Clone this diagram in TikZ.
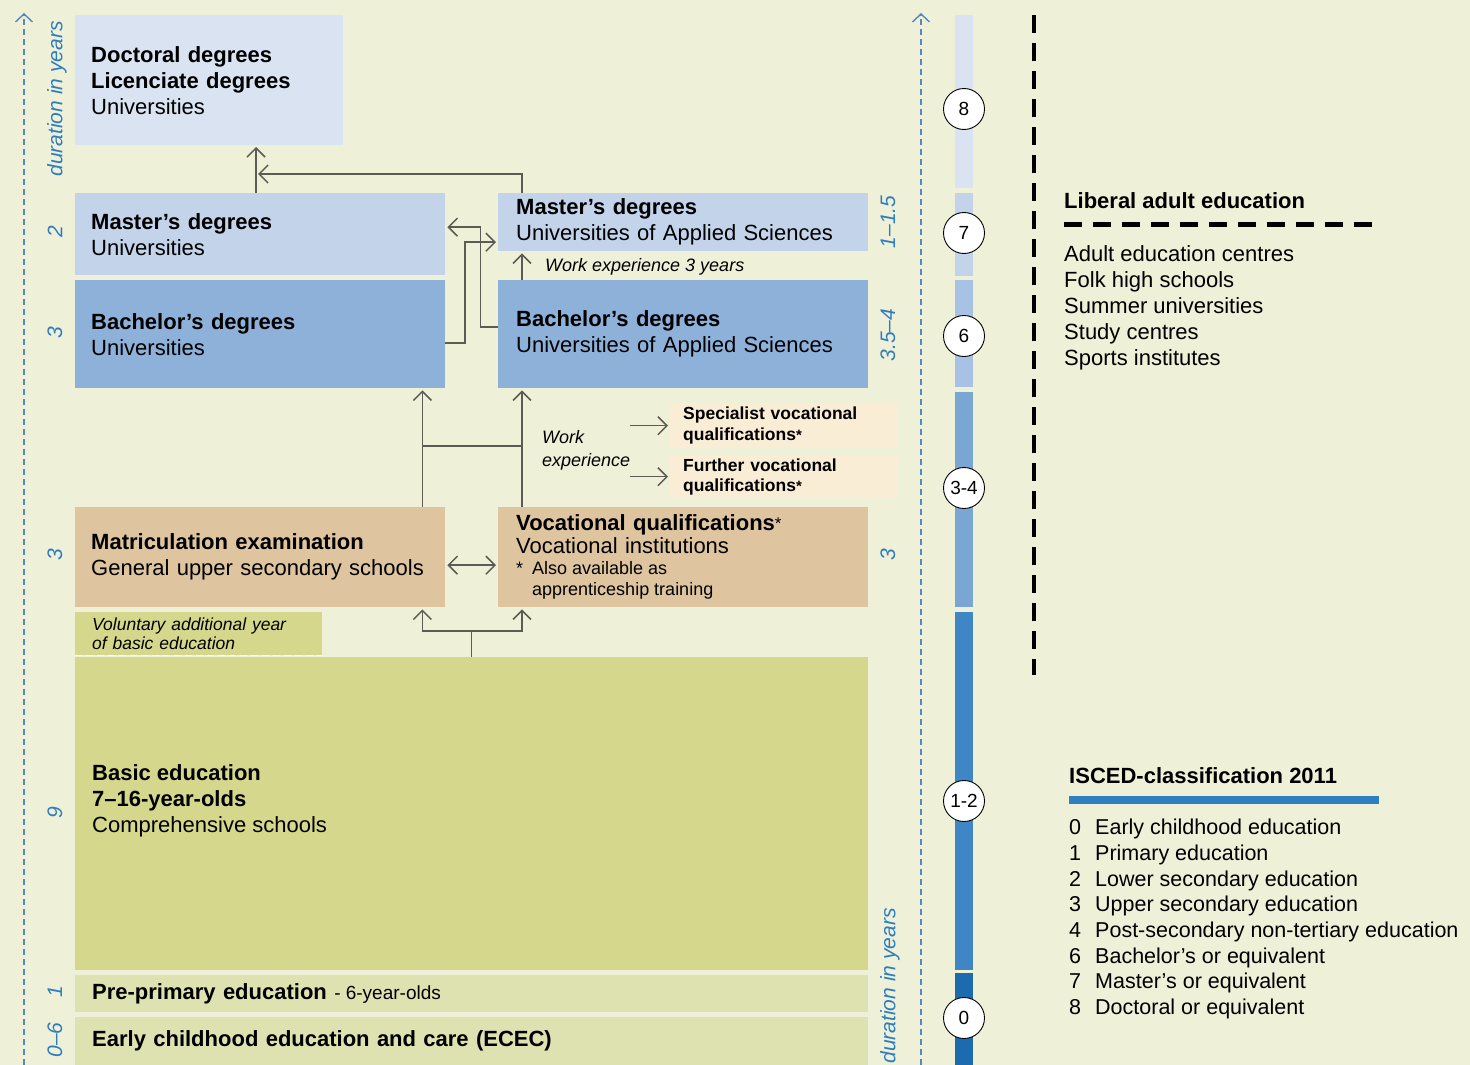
\documentclass[tikz,border=0pt]{standalone}
\usepackage{fontspec}
\setmainfont{Liberation Sans}
\usetikzlibrary{arrows.meta,calc}
\setlength{\parindent}{0pt}
\definecolor{bg}{RGB}{238,240,216}
\definecolor{cdoc}{RGB}{218,227,241}
\definecolor{cmas}{RGB}{194,211,234}
\definecolor{cbac}{RGB}{142,177,218}
\definecolor{ctan}{RGB}{222,197,160}
\definecolor{ccream}{RGB}{250,237,214}
\definecolor{colive}{RGB}{213,216,140}
\definecolor{clight}{RGB}{222,226,176}
\definecolor{conncol}{RGB}{92,92,84}
\definecolor{durcol}{RGB}{46,125,190}
\definecolor{axcol}{RGB}{85,135,192}
\definecolor{iA}{RGB}{218,227,241}
\definecolor{iB}{RGB}{194,211,234}
\definecolor{iC}{RGB}{168,194,229}
\definecolor{iD}{RGB}{122,166,212}
\definecolor{iE}{RGB}{63,135,196}
\definecolor{iF}{RGB}{28,107,175}
\definecolor{iscbar}{RGB}{47,126,192}
\newcommand{\fnast}[2][1pt]{\raisebox{#1}{\fontsize{#2}{#2}\selectfont*}}
\begin{document}
\begin{tikzpicture}[x=1pt,y=-1pt,
  box/.style={anchor=north west, inner xsep=16pt, inner ysep=0pt, align=left, font=\fontsize{22}{26}\selectfont},
  conn/.style={draw=conncol, line width=1.5pt},
  arr/.style={-{Straight Barb[length=9pt,width=18pt]}, shorten >=2pt},
  arrs/.style={{Straight Barb[length=9pt,width=18pt]}-{Straight Barb[length=9pt,width=18pt]}, shorten >=2pt, shorten <=2pt},
  dur/.style={rotate=90, text=durcol, font=\fontsize{21}{21}\selectfont\itshape, inner sep=0pt},
  axis/.style={draw=axcol, line width=1.4pt, dash pattern=on 6pt off 4pt, -{Straight Barb[length=8pt,width=17pt]}},
  circ/.style={circle, draw=black, fill=white, minimum size=41pt, inner sep=0pt, line width=0.9pt, font=\fontsize{19}{19}\selectfont},
  txt/.style={inner sep=0pt, align=left}
]
\useasboundingbox (0,0) rectangle (1470,1065);
\fill[bg] (0,0) rectangle (1470,1065);

% duration axes
\coordinate (axLb) at (24,1065);
\coordinate (axLt) at (24,13);
\coordinate (axRb) at (921,1065);
\coordinate (axRt) at (921,13);
\draw[axis] (axLb) -- (axLt);
\draw[axis] (axRb) -- (axRt);

% left duration labels
\node[dur] (dlL) at (57,99) {duration in years};
\node[dur] (dl2) at (55,232) {2};
\node[dur] (dl3a) at (55,333) {3};
\node[dur] (dl3b) at (55,555) {3};
\node[dur] (dl9) at (55,813) {9};
\node[dur] (dl1) at (55,992) {1};
\node[dur] (dl06) at (55,1040) {0–6};
% right duration labels
\node[dur] (drA) at (888,222) {1–1.5};
\node[dur] (drB) at (888,335) {3.5–4};
\node[dur] (drC) at (888,555) {3};
\node[dur] (drL) at (890,986) {duration in years};

% boxes
\node[box, fill=cdoc, minimum width=268, minimum height=130, text width=236] (doc) at (75,15)
  {\textbf{Doctoral degrees}\\\textbf{Licenciate degrees}\\Universities};
\node[box, fill=cmas, minimum width=370, minimum height=82, text width=338] (mastU) at (75,193)
  {\textbf{Master’s degrees}\\Universities};
\node[box, fill=cbac, minimum width=370, minimum height=108, text width=338] (bachU) at (75,280)
  {\textbf{Bachelor’s degrees}\\Universities};
\node[box, inner xsep=18pt, fill=cmas, minimum width=370, minimum height=58, text width=334] (mastA) at (498,193)
  {\textbf{Master’s degrees}\\Universities of Applied Sciences};
\node[box, inner xsep=18pt, fill=cbac, minimum width=370, minimum height=108, text width=334] (bachA) at (498,280)
  {\textbf{Bachelor’s degrees}\\Universities of Applied Sciences};
\node[txt, anchor=base west, font=\fontsize{18}{18}\selectfont\itshape] (work3) at (545,271) {Work experience 3 years};

\node[box, inner xsep=13pt, fill=ccream, minimum width=228, minimum height=45, text width=202, font=\fontsize{17.5}{21}\selectfont\bfseries] (spec) at (670,403)
  {Specialist vocational\\qualifications\fnast[0pt]{15}};
\node[box, inner xsep=13pt, fill=ccream, minimum width=228, minimum height=43, text width=202, font=\fontsize{17.5}{20}\selectfont\bfseries] (further) at (670,455)
  {Further vocational\\qualifications\fnast[0pt]{15}};
\node[txt, anchor=north west, font=\fontsize{18}{23}\selectfont\itshape] (workexp) at (542,430) {Work\\experience};

\node[box, fill=ctan, minimum width=370, minimum height=100, text width=338] (matric) at (75,507)
  {\textbf{Matriculation examination}\\General upper secondary schools};
\node[box, inner xsep=18pt, fill=ctan, minimum width=370, minimum height=100, text width=334, font=\fontsize{22}{23}\selectfont] (voc) at (498,507)
  {\raggedright\textbf{Vocational qualifications}\fnast[1pt]{17}\par
   Vocational institutions\par
   \fontsize{18}{21}\selectfont\spaceskip=0pt\xspaceskip=0pt
   \makebox[16pt][l]{*}Also available as\par
   \hspace*{16pt}apprenticeship training\par};

\node[box, inner xsep=17pt, fill=colive, minimum width=247, minimum height=43, text width=213, font=\fontsize{17.5}{19}\selectfont\itshape] (volun) at (75,612)
  {Voluntary additional year\\of basic education};
\draw[white, line width=1.5pt, dash pattern=on 7pt off 4pt] (volun.south west) -- (volun.south east);

\node[box, fill=colive, minimum width=793, minimum height=313] (basic) at (75,657) {};
\node[txt, anchor=north west, font=\fontsize{22}{26}\selectfont] (basictxt) at (92,764)
  {\textbf{Basic education}\\\textbf{7–16-year-olds}\\Comprehensive schools};
\node[box, inner xsep=17pt, fill=clight, minimum width=793, minimum height=37, text width=759] (pre) at (75,975)
  {\textbf{Pre-primary education} {\fontsize{19}{19}\selectfont\spaceskip=0pt - 6-year-olds}};
\node[box, inner xsep=17pt, fill=clight, minimum width=793, minimum height=48, text width=759] (ecec) at (75,1017)
  {\textbf{Early childhood education and care (ECEC)}};

% connectors
\draw[conn] (basic.north) -- ++(0,-26) coordinate (jb);
\draw[conn,arr] (jb) -| ([xshift=-23pt]matric.south east);
\draw[conn,arr] (jb) -| ([xshift=24pt]voc.south west);
\draw[conn,arr] ([xshift=-23pt]matric.north east) -- ([xshift=-23pt]bachU.south east);
\draw[conn,arr] ([xshift=24pt]voc.north west) -- ([xshift=24pt]bachA.south west);
\draw[conn] ([xshift=-23pt,yshift=61pt]matric.north east) -- ([xshift=24pt,yshift=61pt]voc.north west);
\draw[conn,arrs] ([yshift=-8pt]matric.east) -- ([yshift=-8pt]voc.west);
\draw[conn,arr] (workexp.east |- spec.west) -- (spec.west);
\draw[conn,arr] (workexp.east |- further.west) -- (further.west);
\draw[conn,arr] ([xshift=24pt]bachA.north west) -- ([xshift=24pt]mastA.south west);
\draw[conn,arr] ([xshift=181pt]mastU.north west) -- ([xshift=181pt,yshift=-130pt]doc.north west);
\draw[conn,arr] ([xshift=24pt]mastA.north west) -- ([xshift=24pt,yshift=19pt]mastA.north west) -- ([xshift=181pt,yshift=19pt]mastU.north west);
\draw[conn,arr] ([yshift=7pt]bachA.west) -| ([xshift=35pt,yshift=7pt]mastU.east) -- ([yshift=7pt]mastU.east);
\draw[conn,arr] ([yshift=-9pt]bachU.east) -| ([xshift=-33pt,yshift=-20pt]mastA.west) -- ([yshift=-20pt]mastA.west);

% ISCED bar
\fill[iA] (955,15) rectangle (973,188);
\fill[iB] (955,193) rectangle (973,276);
\fill[iC] (955,280) rectangle (973,387);
\fill[iD] (955,392) rectangle (973,607);
\fill[iE] (955,612) rectangle (973,970);
\fill[iF] (955,973) rectangle (973,1065);
\node[circ] (c8) at (964,109) {8};
\node[circ] (c7) at (964,233) {7};
\node[circ] (c6) at (964,336) {6};
\node[circ] (c34) at (964,488) {3-4};
\node[circ] (c12) at (964,801) {1-2};
\node[circ] (c0) at (964,1018) {0};

% liberal adult education
\draw[line width=4pt, dash pattern=on 18pt off 10pt] (1034,15) -- (1034,675);
\node[txt, anchor=base west, font=\fontsize{22}{26}\selectfont\bfseries] (libt) at (1064,208) {Liberal adult education};
\draw[line width=5pt, dash pattern=on 18pt off 11pt] ([yshift=-16pt]libt.base west) -- ++(311,0);
\node[txt, anchor=north west, font=\fontsize{22}{26}\selectfont] (libl) at (1064,245)
  {Adult education centres\\Folk high schools\\Summer universities\\Study centres\\Sports institutes};

% ISCED legend
\node[txt, anchor=base west, font=\fontsize{22}{26}\selectfont\bfseries] (isct) at (1069,783) {ISCED-classification 2011};
\draw[iscbar, line width=8pt] ([yshift=-17pt]isct.base west) -- ++(310,0);
\node[txt, anchor=north west, font=\fontsize{21.5}{25.7}\selectfont] (iscl) at (1069,819)
  {\makebox[26pt][l]{0}Early childhood education\\
   \makebox[26pt][l]{1}Primary education\\
   \makebox[26pt][l]{2}Lower secondary education\\
   \makebox[26pt][l]{3}Upper secondary education\\
   \makebox[26pt][l]{4}Post-secondary non-tertiary education\\
   \makebox[26pt][l]{6}Bachelor’s or equivalent\\
   \makebox[26pt][l]{7}Master’s or equivalent\\
   \makebox[26pt][l]{8}Doctoral or equivalent};
\end{tikzpicture}
\end{document}
